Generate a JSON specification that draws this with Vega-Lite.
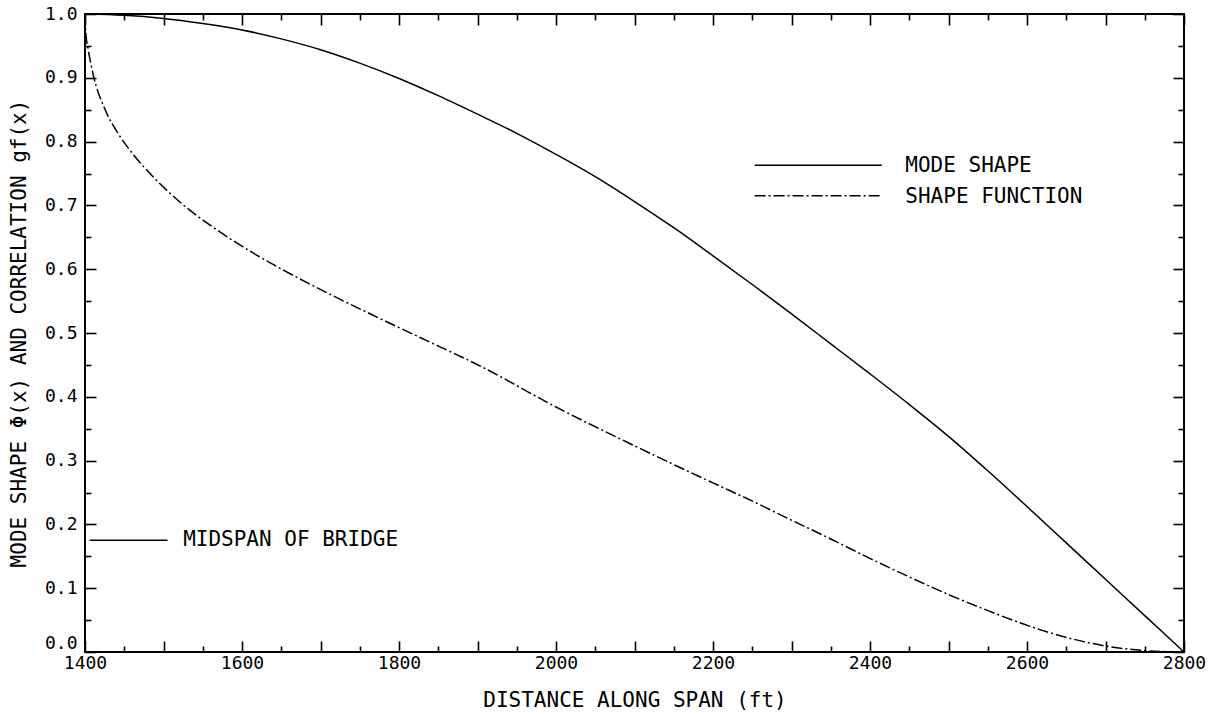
{
  "$schema": "https://vega.github.io/schema/vega-lite/v6.json",
  "width": 1099,
  "height": 638,
  "autosize": {"type": "none"},
  "padding": {"left": 85, "top": 14, "right": 32, "bottom": 62},
  "background": "white",
  "config": {
    "view": {"stroke": "black", "strokeWidth": 2},
    "axis": {
      "grid": false,
      "domain": false,
      "tickColor": "black",
      "tickWidth": 1.6,
      "labelColor": "black",
      "titleColor": "black",
      "labelFont": "DejaVu Sans Mono",
      "labelFontSize": 18,
      "titleFont": "DejaVu Sans Mono",
      "titleFontSize": 21,
      "titleFontWeight": "normal",
      "labelFlush": false,
      "labelOverlap": false,
      "labelBound": false
    }
  },
  "datasets": {
    "mode": [
      {"x": 1400, "v": 1.0}, {"x": 1450, "v": 0.998}, {"x": 1500, "v": 0.993}, {"x": 1550, "v": 0.985},
      {"x": 1600, "v": 0.975}, {"x": 1650, "v": 0.961}, {"x": 1700, "v": 0.944}, {"x": 1750, "v": 0.923},
      {"x": 1800, "v": 0.899}, {"x": 1850, "v": 0.872}, {"x": 1900, "v": 0.843}, {"x": 1950, "v": 0.813},
      {"x": 2000, "v": 0.780}, {"x": 2050, "v": 0.745}, {"x": 2100, "v": 0.706}, {"x": 2150, "v": 0.665},
      {"x": 2200, "v": 0.621}, {"x": 2250, "v": 0.576}, {"x": 2300, "v": 0.530}, {"x": 2350, "v": 0.483},
      {"x": 2400, "v": 0.436}, {"x": 2450, "v": 0.388}, {"x": 2500, "v": 0.338}, {"x": 2550, "v": 0.284},
      {"x": 2600, "v": 0.228}, {"x": 2650, "v": 0.171}, {"x": 2700, "v": 0.114}, {"x": 2750, "v": 0.057},
      {"x": 2800, "v": 0.0}
    ],
    "shape": [
      {"x": 1400, "v": 1.0}, {"x": 1401, "v": 0.97}, {"x": 1404, "v": 0.945}, {"x": 1411, "v": 0.902},
      {"x": 1425, "v": 0.852}, {"x": 1442, "v": 0.813}, {"x": 1462, "v": 0.779}, {"x": 1489, "v": 0.742},
      {"x": 1523, "v": 0.703}, {"x": 1570, "v": 0.660}, {"x": 1612, "v": 0.627}, {"x": 1655, "v": 0.597},
      {"x": 1710, "v": 0.562}, {"x": 1765, "v": 0.529}, {"x": 1825, "v": 0.494}, {"x": 1907, "v": 0.446},
      {"x": 2000, "v": 0.384}, {"x": 2102, "v": 0.322}, {"x": 2153, "v": 0.292}, {"x": 2200, "v": 0.265},
      {"x": 2251, "v": 0.236}, {"x": 2301, "v": 0.206}, {"x": 2352, "v": 0.176}, {"x": 2401, "v": 0.146},
      {"x": 2453, "v": 0.116}, {"x": 2502, "v": 0.089}, {"x": 2552, "v": 0.064}, {"x": 2602, "v": 0.041},
      {"x": 2653, "v": 0.022}, {"x": 2702, "v": 0.009}, {"x": 2752, "v": 0.002}, {"x": 2800, "v": 0.0}
    ],
    "legendSolid": [{"x": 2253, "v": 0.763}, {"x": 2415, "v": 0.763}],
    "legendDash": [{"x": 2253, "v": 0.715}, {"x": 2415, "v": 0.715}],
    "midspan": [{"x": 1406, "v": 0.175}, {"x": 1505, "v": 0.175}],
    "labels": [
      {"x": 2445, "v": 0.761, "text": "MODE SHAPE"},
      {"x": 2445, "v": 0.713, "text": "SHAPE FUNCTION"},
      {"x": 1525, "v": 0.175, "text": "MIDSPAN OF BRIDGE"}
    ]
  },
  "resolve": {"axis": {"x": "independent", "y": "independent"}},
  "layer": [
    {
      "data": {"name": "mode"},
      "mark": {"type": "line", "color": "black", "strokeWidth": 1.5, "interpolate": "monotone"},
      "encoding": {
        "x": {
          "field": "x", "type": "quantitative",
          "scale": {"domain": [1400, 2800], "nice": false, "zero": false},
          "axis": {
            "orient": "bottom",
            "values": [1400, 1500, 1600, 1700, 1800, 1900, 2000, 2100, 2200, 2300, 2400, 2500, 2600, 2700, 2800],
            "tickSize": -11,
            "format": "d",
            "labelExpr": "datum.value % 200 === 0 ? datum.label : ''",
            "labelPadding": 13,
            "title": "DISTANCE ALONG SPAN (ft)",
            "titleY": 48,
            "titleBaseline": "middle"
          }
        },
        "y": {
          "field": "v", "type": "quantitative",
          "scale": {"domain": [0, 1], "nice": false, "zero": false},
          "axis": {
            "orient": "left",
            "values": [0, 0.1, 0.2, 0.3, 0.4, 0.5, 0.6, 0.7, 0.8, 0.9, 1.0],
            "tickSize": -11,
            "format": ".1f",
            "labelPadding": 19,
            "labelOffset": {"condition": {"test": "datum.value === 0", "value": -9}, "value": 0},
            "title": "MODE SHAPE Φ(x) AND CORRELATION gf(x)",
            "titleX": -66,
            "titleBaseline": "middle"
          }
        }
      }
    },
    {
      "data": {"name": "shape"},
      "mark": {"type": "line", "color": "black", "strokeWidth": 1.5, "strokeDash": [11, 3, 2, 3], "interpolate": "monotone"},
      "encoding": {
        "x": {
          "field": "x", "type": "quantitative",
          "scale": {"domain": [1400, 2800], "nice": false, "zero": false},
          "axis": {
            "orient": "bottom",
            "values": [1450, 1550, 1650, 1750, 1850, 1950, 2050, 2150, 2250, 2350, 2450, 2550, 2650, 2750],
            "tickSize": -6,
            "labels": false,
            "title": null
          }
        },
        "y": {
          "field": "v", "type": "quantitative",
          "scale": {"domain": [0, 1], "nice": false, "zero": false},
          "axis": {
            "orient": "left",
            "values": [0.05, 0.15, 0.25, 0.35, 0.45, 0.55, 0.65, 0.75, 0.85, 0.95],
            "tickSize": -6,
            "labels": false,
            "title": null
          }
        }
      }
    },
    {
      "data": {"name": "legendSolid"},
      "mark": {"type": "line", "color": "black", "strokeWidth": 1.5},
      "encoding": {
        "x": {
          "field": "x", "type": "quantitative",
          "scale": {"domain": [1400, 2800], "nice": false, "zero": false},
          "axis": {
            "orient": "top",
            "values": [1400, 1500, 1600, 1700, 1800, 1900, 2000, 2100, 2200, 2300, 2400, 2500, 2600, 2700, 2800],
            "tickSize": -11,
            "labels": false,
            "title": null
          }
        },
        "y": {
          "field": "v", "type": "quantitative",
          "scale": {"domain": [0, 1], "nice": false, "zero": false},
          "axis": {
            "orient": "right",
            "values": [0, 0.1, 0.2, 0.3, 0.4, 0.5, 0.6, 0.7, 0.8, 0.9, 1.0],
            "tickSize": -11,
            "labels": false,
            "title": null
          }
        }
      }
    },
    {
      "data": {"name": "legendDash"},
      "mark": {"type": "line", "color": "black", "strokeWidth": 1.5, "strokeDash": [11, 3, 2, 3]},
      "encoding": {
        "x": {
          "field": "x", "type": "quantitative",
          "scale": {"domain": [1400, 2800], "nice": false, "zero": false},
          "axis": {
            "orient": "top",
            "values": [1450, 1550, 1650, 1750, 1850, 1950, 2050, 2150, 2250, 2350, 2450, 2550, 2650, 2750],
            "tickSize": -6,
            "labels": false,
            "title": null
          }
        },
        "y": {
          "field": "v", "type": "quantitative",
          "scale": {"domain": [0, 1], "nice": false, "zero": false},
          "axis": {
            "orient": "right",
            "values": [0.05, 0.15, 0.25, 0.35, 0.45, 0.55, 0.65, 0.75, 0.85, 0.95],
            "tickSize": -6,
            "labels": false,
            "title": null
          }
        }
      }
    },
    {
      "data": {"name": "midspan"},
      "mark": {"type": "line", "color": "black", "strokeWidth": 1.5},
      "encoding": {
        "x": {"field": "x", "type": "quantitative", "axis": null},
        "y": {"field": "v", "type": "quantitative", "axis": null}
      }
    },
    {
      "data": {"name": "labels"},
      "mark": {"type": "text", "align": "left", "baseline": "middle", "font": "DejaVu Sans Mono", "fontSize": 21, "color": "black"},
      "encoding": {
        "x": {"field": "x", "type": "quantitative", "axis": null},
        "y": {"field": "v", "type": "quantitative", "axis": null},
        "text": {"field": "text"}
      }
    }
  ]
}
